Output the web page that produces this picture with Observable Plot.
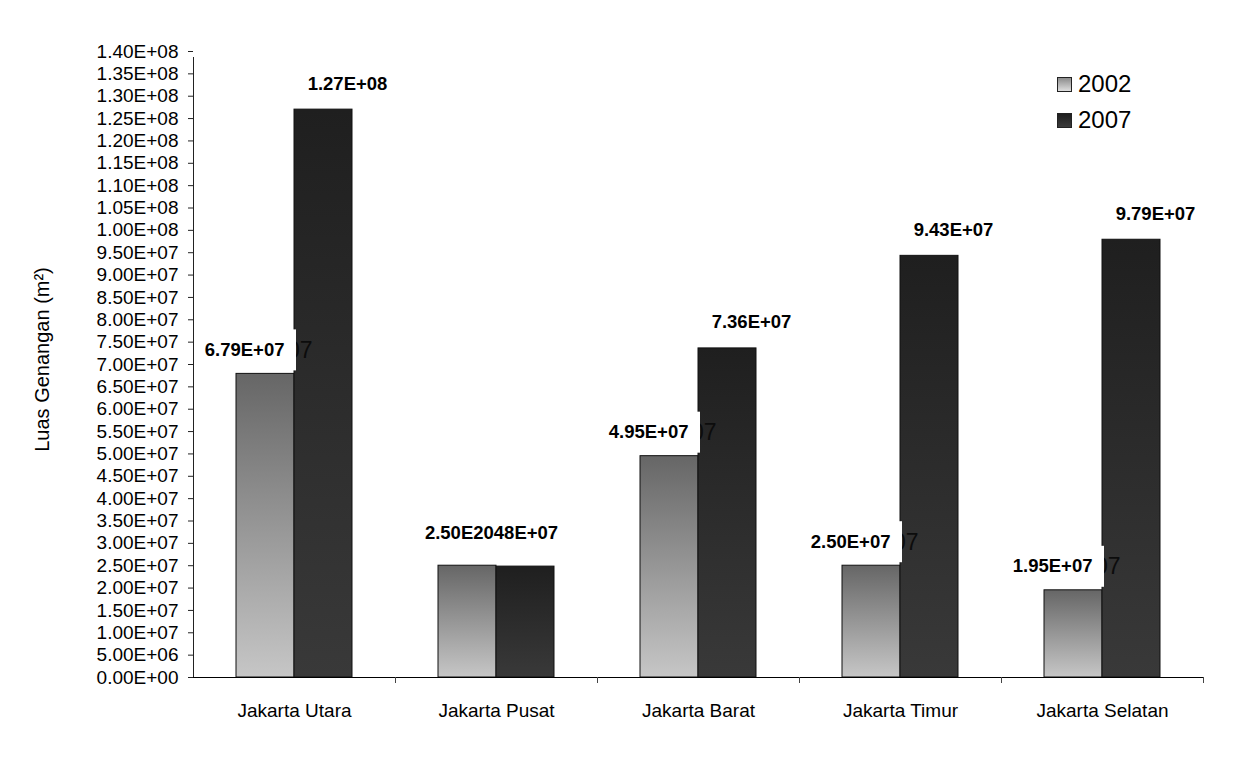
<!DOCTYPE html>
<html>
<head>
<meta charset="utf-8">
<script src="https://cdn.jsdelivr.net/npm/d3@7"></script>
<script src="https://cdn.jsdelivr.net/npm/@observablehq/plot@0.6"></script>
<style>
  body { margin: 0; background: #fff; font-family: "Liberation Sans", Arial, sans-serif; }
  #wrap { position: relative; width: 1253px; height: 758px; }
  .legend { position: absolute; left: 1057px; top: 66px; font-size: 24px; color: #000; line-height: 1; }
  .legend .row { display: flex; align-items: center; height: 36px; }
  .legend .sw { width: 15px; height: 15px; border: 1px solid #222; box-sizing: border-box; margin-right: 6px; }
</style>
</head>
<body>
<div id="wrap"></div>
<script>
// ---- data ----
const categories = ["Jakarta Utara", "Jakarta Pusat", "Jakarta Barat", "Jakarta Timur", "Jakarta Selatan"];
const years = ["2002", "2007"];
const values2002 = [6.79e7, 2.50e7, 4.95e7, 2.50e7, 1.95e7];
const values2007 = [1.27e8, 2.48e7, 7.36e7, 9.43e7, 9.79e7];
const labels2002 = ["6.79E+07", "", "4.95E+07", "2.50E+07", "1.95E+07"];
const labels2007 = ["1.27E+08", "", "7.36E+07", "9.43E+07", "9.79E+07"];
const mergedLabels = ["", "2.50E2048E+07", "", "", ""];
const ghostLabels = ["07", "", "07", "07", "07"];
const yMax = 1.40e8;
const yStep = 5e6;
const yTitle = "Luas Genangan (m²)";

// ---- tables built from the arrays ----
const rows = categories.map((c, i) => ({
  cat: c, v2002: values2002[i], v2007: values2007[i],
  l2002: labels2002[i], l2007: labels2007[i], merged: mergedLabels[i], ghost: ghostLabels[i]
}));
const yTicks = d3.range(0, yMax + 1, yStep);
const fmt = v => {
  const [m, e] = v.toExponential(2).split("e");
  return m + "E" + e[0] + e.slice(1).padStart(2, "0");
};

const half = 101; // half of a category band, in px
const ghostRows = rows.filter(d => d.ghost);

const chart = Plot.plot({
  width: 1253,
  height: 758,
  marginLeft: 193,
  marginRight: 50,
  marginTop: 51,
  marginBottom: 81,
  style: { fontFamily: "'Liberation Sans', Arial, sans-serif", fontSize: "19px", color: "#000", background: "#fff" },
  x: { type: "band", domain: categories, padding: 0 },
  y: { domain: [0, yMax] },
  marks: [
    Plot.axisY({ ticks: yTicks, tickFormat: fmt, tickSize: 5, tickPadding: 10, label: null, stroke: "#222" }),
    Plot.axisX({ tickSize: 0, tickPadding: 26, label: null }),
    // bars 2002
    Plot.barY(rows, { x: "cat", y: "v2002", insetLeft: 43, insetRight: 101, fill: "url(#g2002)", stroke: "#111", strokeWidth: 1 }),
    // bars 2007
    Plot.barY(rows, { x: "cat", y: "v2007", insetLeft: 101, insetRight: 43, fill: "url(#g2007)", stroke: "#111", strokeWidth: 1 }),
    // x axis line
    Plot.ruleY([0], { stroke: "#000" }),
    // y axis line
    Plot.ruleX([categories[0]], { dx: -half, y1: 0, y2: yMax, insetBottom: -6, stroke: "#222" }),
    // category boundary ticks
    Plot.ruleX(categories.slice(1), { dx: -half, y1: 0, y2: 0, insetBottom: -6, stroke: "#444" }),
    Plot.ruleX([categories[categories.length - 1]], { dx: half, y1: 0, y2: 0, insetBottom: -6, stroke: "#444" }),
    // ghost label tails (partly hidden by the label box)
    Plot.text(ghostRows, { x: "cat", y: "v2002", text: "ghost", textAnchor: "end", lineAnchor: "bottom", dx: 18, dy: -16, fontSize: 23, fill: "#0c0c0c" }),
    // white label boxes
    Plot.barY(ghostRows, { x: "cat", y1: "v2002", y2: "v2002", insetTop: -44, insetBottom: 3, insetLeft: 4, insetRight: half - 2, fill: "#fff" }),
    // 2002 labels
    Plot.text(rows.filter(d => d.l2002), { x: "cat", y: "v2002", text: "l2002", textAnchor: "end", lineAnchor: "bottom", dx: -10, dy: -18, fontSize: 18.5, fontWeight: "bold", fill: "#000" }),
    // 2007 labels
    Plot.text(rows.filter(d => d.l2007), { x: "cat", y: "v2007", text: "l2007", textAnchor: "middle", lineAnchor: "bottom", dx: 53, dy: -20, fontSize: 18.5, fontWeight: "bold", fill: "#000" }),
    // overlapping labels (Pusat)
    Plot.text(rows.filter(d => d.merged), { x: "cat", y: "v2002", text: "merged", textAnchor: "middle", lineAnchor: "bottom", dx: -5, dy: -27, fontSize: 18.5, fontWeight: "bold", fill: "#000" }),
    // y title
    Plot.text([yTitle], { frameAnchor: "left", textAnchor: "middle", rotate: -90, dx: -151, dy: -5, fontSize: 20, fill: "#000" })
  ]
});

const svg = d3.select(chart);
const defs = svg.insert("defs", ":first-child");
const g1 = defs.append("linearGradient").attr("id", "g2002").attr("x1", 0).attr("y1", 0).attr("x2", 0).attr("y2", 1);
g1.append("stop").attr("offset", 0).attr("stop-color", "#666666");
g1.append("stop").attr("offset", 1).attr("stop-color", "#c6c6c6");
const g2 = defs.append("linearGradient").attr("id", "g2007").attr("x1", 0).attr("y1", 0).attr("x2", 0).attr("y2", 1);
g2.append("stop").attr("offset", 0).attr("stop-color", "#1f1f1f");
g2.append("stop").attr("offset", 1).attr("stop-color", "#393939");

const wrap = document.getElementById("wrap");
wrap.appendChild(chart);

// legend
const legend = document.createElement("div");
legend.className = "legend";
const swatches = { "2002": "linear-gradient(#8c8c8c, #dedede)", "2007": "linear-gradient(#1f1f1f, #3a3a3a)" };
years.forEach(y => {
  const row = document.createElement("div");
  row.className = "row";
  const sw = document.createElement("div");
  sw.className = "sw";
  sw.style.background = swatches[y];
  const t = document.createElement("span");
  t.textContent = y;
  row.appendChild(sw);
  row.appendChild(t);
  legend.appendChild(row);
});
wrap.appendChild(legend);
</script>
</body>
</html>
